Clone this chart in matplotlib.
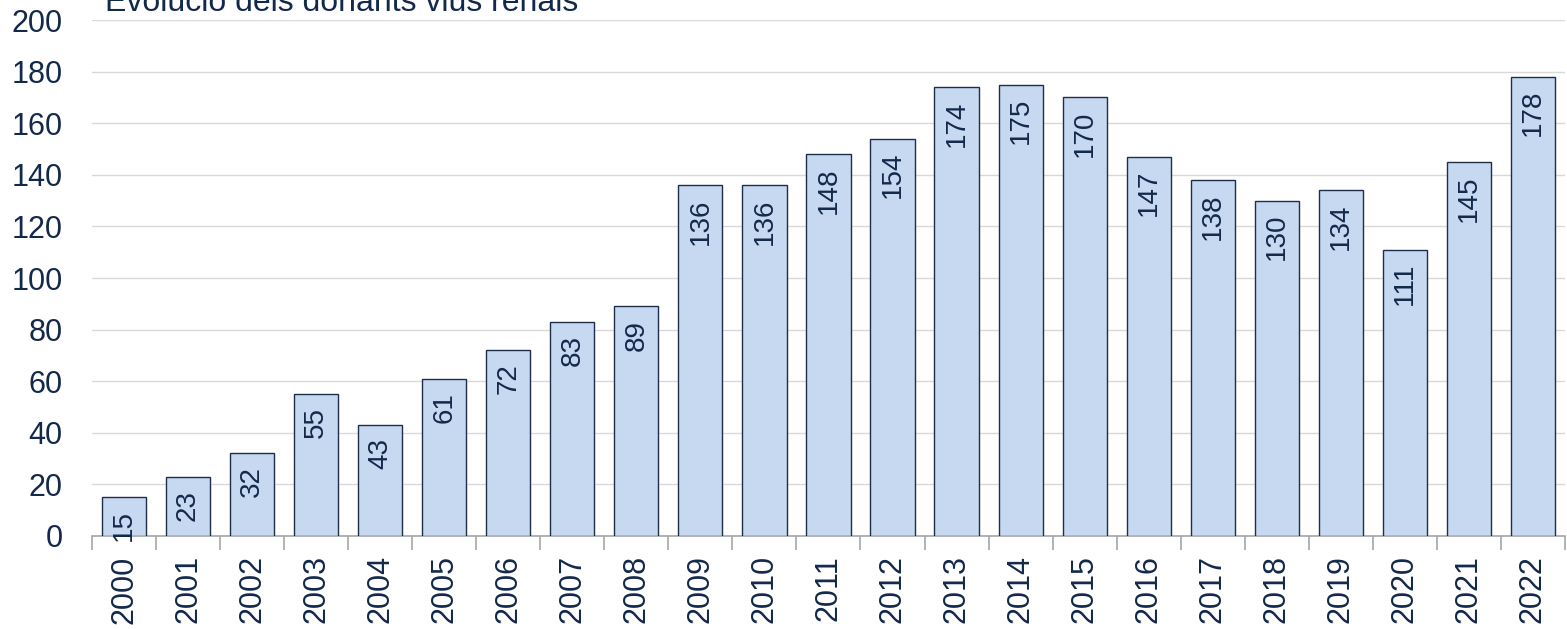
import matplotlib.pyplot as plt

plt.rcParams['font.family'] = ['Liberation Sans', 'DejaVu Sans']

# dades
anys = [str(a) for a in range(2000, 2023)]
donants = [15, 23, 32, 55, 43, 61, 72, 83, 89, 136, 136, 148, 154, 174, 175, 170,
           147, 138, 130, 134, 111, 145, 178]

text_color = '#13294B'

fig = plt.figure(figsize=(15.67, 6.29), dpi=100)
ax = fig.add_axes([0.0587, 0.148, 0.9400, 0.820])

x = list(range(len(anys)))
bars = ax.bar(x, donants, width=0.69, color='#C6D9F1', edgecolor='#1F2D4D',
              linewidth=1.0, zorder=3)

# etiquetes dins de les barres
for xi, v in zip(x, donants):
    ax.annotate(str(v), xy=(xi, v), xytext=(0, -9.5), textcoords='offset points',
                rotation=90, ha='center', va='top', fontsize=20,
                color=text_color, zorder=4, annotation_clip=False)

ax.set_xlim(-0.5, len(anys) - 0.5)
ax.set_ylim(0, 200)
ax.set_yticks(range(0, 201, 20))
ax.yaxis.grid(True, color='#D9D9D9', linewidth=1.0, zorder=0)
ax.set_axisbelow(True)

ax.set_xticks(x)
ax.set_xticklabels(anys, rotation=90, fontsize=22, color=text_color)
ax.set_xticks([i - 0.5 for i in range(len(anys) + 1)], minor=True)
ax.tick_params(axis='x', which='major', length=0, pad=14)
ax.tick_params(axis='x', which='minor', length=10, width=1.2, color='#A6A6A6')
ax.tick_params(axis='y', length=0, labelsize=22, labelcolor=text_color, pad=21)

for s in ['top', 'right', 'left']:
    ax.spines[s].set_visible(False)
ax.spines['bottom'].set_color('#A6A6A6')
ax.spines['bottom'].set_linewidth(1.2)

# títol (tallat a dalt com a l'original)
fig.text(0.0667, 0.983, 'Evolució dels donants vius renals', fontsize=23,
         color=text_color, ha='left', va='baseline')

fig.savefig('out.png', dpi=100)
